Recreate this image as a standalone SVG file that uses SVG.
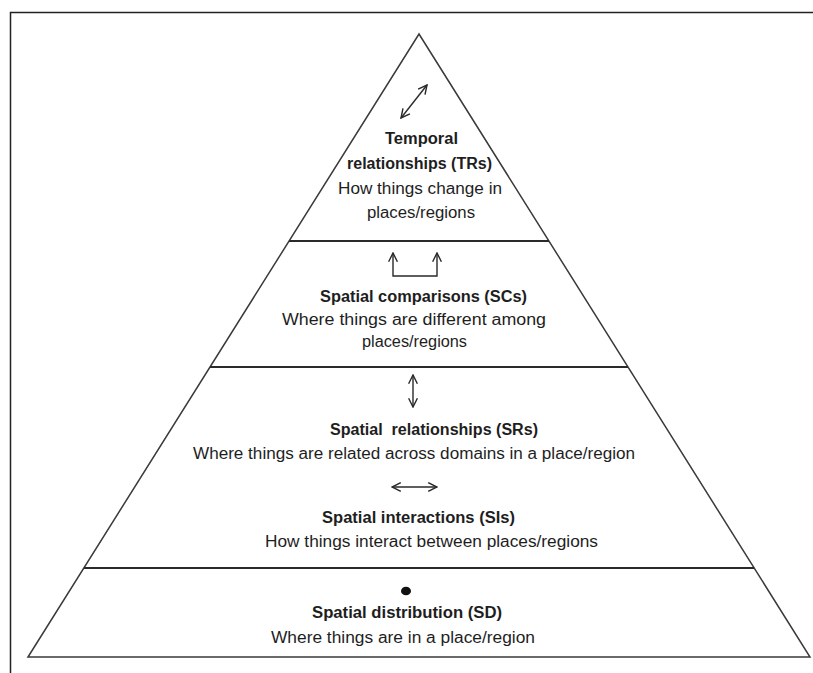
<svg xmlns="http://www.w3.org/2000/svg" width="813" height="673" viewBox="0 0 813 673">
  <style>
    .t { font-family: "Liberation Sans", Arial, sans-serif; font-size: 16px; fill: #1e1e1e; }
    .b { font-weight: bold; }
    .edge { stroke: #3a3a3a; stroke-width: 1.5; fill: none; }
    .div { stroke: #2a2a2a; stroke-width: 1.8; fill: none; }
    .arr { stroke: #2a2a2a; stroke-width: 1.4; fill: none; marker-start: url(#ah); marker-end: url(#ah); }
  </style>
  <defs>
    <marker id="ah" viewBox="0 0 10 10" refX="9" refY="5" markerWidth="11" markerHeight="11" markerUnits="userSpaceOnUse" orient="auto-start-reverse">
      <path d="M1,1 L9,5 L1,9" fill="none" stroke="#2a2a2a" stroke-width="1.3"/>
    </marker>
  </defs>
  <rect width="813" height="673" fill="#ffffff"/>
  <!-- frame -->
  <path d="M10.5,673 V12.5 H813" fill="none" stroke="#222" stroke-width="1.5"/>

  <!-- pyramid outline -->
  <g id="pyramid">
    <path class="edge" d="M28,657 L419,34 L810,657 Z"/>
  </g>
  <g id="dividers">
    <line class="div" x1="289" y1="241" x2="549" y2="241" stroke-width="2.2"/>
    <line class="div" x1="210" y1="367" x2="628" y2="367"/>
    <line class="div" x1="84" y1="568" x2="754" y2="568"/>
  </g>

  <g id="connectors">
    <line class="arr" x1="401" y1="118" x2="427" y2="85"/>
    <path class="arr" d="M393,253 V276 H437 V253"/>
    <line class="arr" x1="413" y1="375" x2="413" y2="407"/>
    <line class="arr" x1="392" y1="487" x2="437" y2="487"/>
    <ellipse cx="406" cy="591" rx="5" ry="4.3" fill="#111"/>
  </g>

  <g id="node-tr">
    <text class="t b" x="385" y="144" textLength="73" lengthAdjust="spacingAndGlyphs">Temporal</text>
    <text class="t b" x="347" y="169" textLength="145" lengthAdjust="spacingAndGlyphs">relationships (TRs)</text>
    <text class="t" x="338" y="194" textLength="164" lengthAdjust="spacingAndGlyphs">How things change in</text>
    <text class="t" x="367" y="218" textLength="108" lengthAdjust="spacingAndGlyphs">places/regions</text>
  </g>

  <g id="node-sc">
    <text class="t b" x="320" y="302" textLength="207" lengthAdjust="spacingAndGlyphs">Spatial comparisons (SCs)</text>
    <text class="t" x="282" y="325" textLength="264" lengthAdjust="spacingAndGlyphs">Where things are different among</text>
    <text class="t" x="362" y="347" textLength="105" lengthAdjust="spacingAndGlyphs">places/regions</text>
  </g>

  <g id="node-sr">
    <text class="t b" x="330" y="435" textLength="208" lengthAdjust="spacingAndGlyphs" xml:space="preserve">Spatial  relationships (SRs)</text>
    <text class="t" x="193" y="459" textLength="442" lengthAdjust="spacingAndGlyphs">Where things are related across domains in a place/region</text>
  </g>

  <g id="node-si">
    <text class="t b" x="322" y="523" textLength="193" lengthAdjust="spacingAndGlyphs">Spatial interactions (SIs)</text>
    <text class="t" x="265" y="547" textLength="333" lengthAdjust="spacingAndGlyphs">How things interact between places/regions</text>
  </g>

  <g id="node-sd">
    <text class="t b" x="312" y="618" textLength="190" lengthAdjust="spacingAndGlyphs">Spatial distribution (SD)</text>
    <text class="t" x="271" y="643" textLength="264" lengthAdjust="spacingAndGlyphs">Where things are in a place/region</text>
  </g>
</svg>
